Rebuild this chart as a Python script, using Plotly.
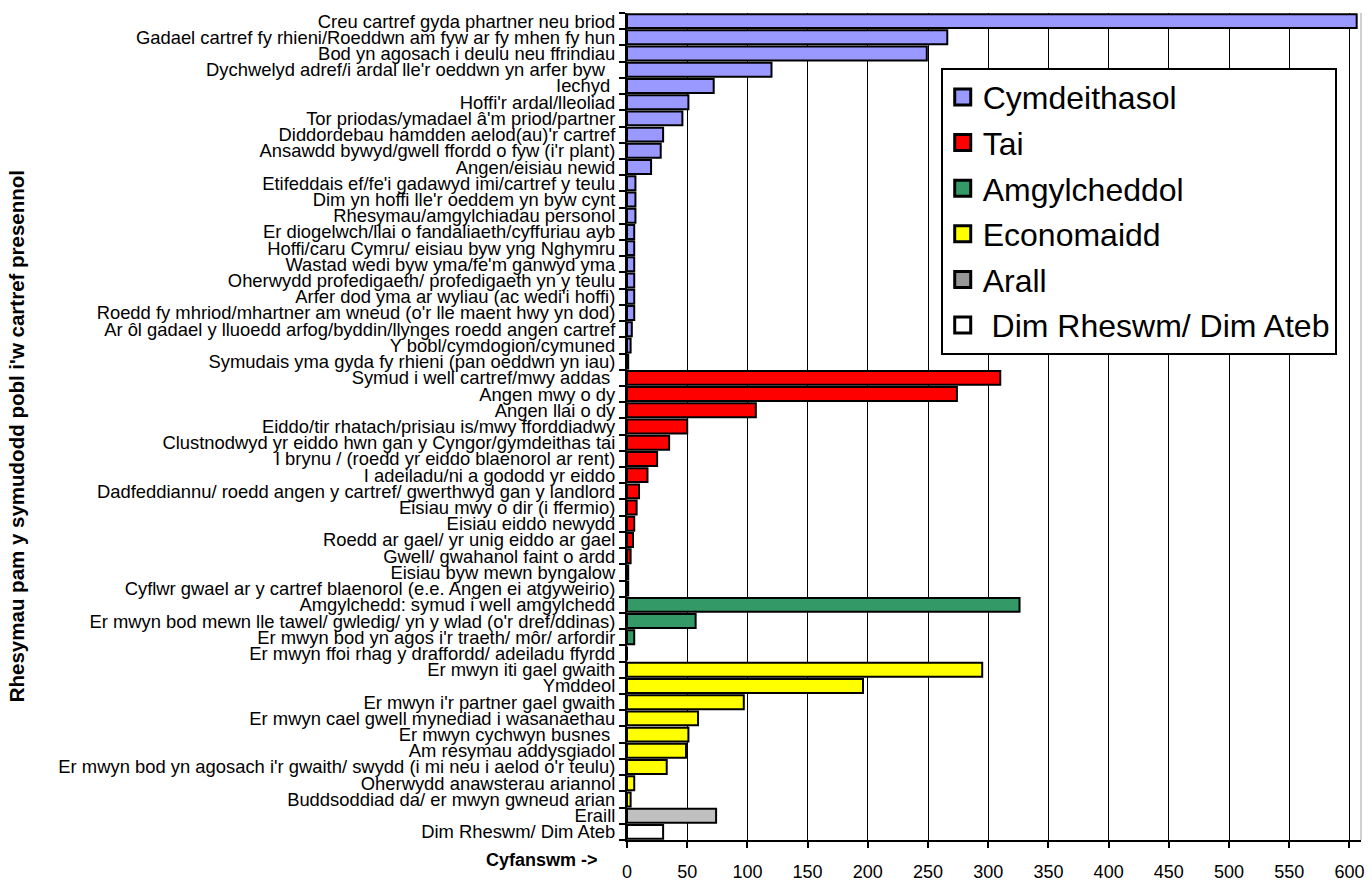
import plotly.graph_objects as go

NB = "\u00a0"

# ---------------- data ----------------
social_labels = [
    "Creu cartref gyda phartner neu briod",
    "Gadael cartref fy rhieni/Roeddwn am fyw ar fy mhen fy hun",
    "Bod yn agosach i deulu neu ffrindiau",
    "Dychwelyd adref/i ardal lle'r oeddwn yn arfer byw" + NB + NB,
    "Iechyd" + NB,
    "Hoffi'r ardal/lleoliad",
    "Tor priodas/ymadael â'm priod/partner",
    "Diddordebau hamdden aelod(au)'r cartref",
    "Ansawdd bywyd/gwell ffordd o fyw (i'r plant)",
    "Angen/eisiau newid",
    "Etifeddais ef/fe'i gadawyd imi/cartref y teulu",
    "Dim yn hoffi lle'r oeddem yn byw cynt",
    "Rhesymau/amgylchiadau personol",
    "Er diogelwch/llai o fandaliaeth/cyffuriau ayb",
    "Hoffi/caru Cymru/ eisiau byw yng Nghymru",
    "Wastad wedi byw yma/fe'm ganwyd yma",
    "Oherwydd profedigaeth/ profedigaeth yn y teulu",
    "Arfer dod yma ar wyliau (ac wedi'i hoffi)",
    "Roedd fy mhriod/mhartner am wneud (o'r lle maent hwy yn dod)",
    "Ar ôl gadael y lluoedd arfog/byddin/llynges roedd angen cartref",
    "Y bobl/cymdogion/cymuned",
    "Symudais yma gyda fy rhieni (pan oeddwn yn iau)",
]
social_values = [606, 266, 249, 120, 72, 51, 46, 30, 28, 20,
                 7, 7, 7, 6, 6, 6, 6, 6, 6, 4, 3, 1]

housing_labels = [
    "Symud i well cartref/mwy addas" + NB,
    "Angen mwy o dy",
    "Angen llai o dy",
    "Eiddo/tir rhatach/prisiau is/mwy fforddiadwy",
    "Clustnodwyd yr eiddo hwn gan y Cyngor/gymdeithas tai",
    "I brynu / (roedd yr eiddo blaenorol ar rent)",
    "I adeiladu/ni a gododd yr eiddo",
    "Dadfeddiannu/ roedd angen y cartref/ gwerthwyd gan y landlord",
    "Eisiau mwy o dir (i ffermio)",
    "Eisiau eiddo newydd",
    "Roedd ar gael/ yr unig eiddo ar gael",
    "Gwell/ gwahanol faint o ardd",
    "Eisiau byw mewn byngalow",
    "Cyflwr gwael ar y cartref blaenorol (e.e. Angen ei atgyweirio)",
]
housing_values = [310, 274, 107, 50, 35, 25, 17, 10, 8, 6, 5, 3, 1, 1]

env_labels = [
    "Amgylchedd: symud i well amgylchedd",
    "Er mwyn bod mewn lle tawel/ gwledig/ yn y wlad (o'r dref/ddinas)",
    "Er mwyn bod yn agos i'r traeth/ môr/ arfordir",
    "Er mwyn ffoi rhag y draffordd/ adeiladu ffyrdd",
]
env_values = [326, 57, 6, 0]

econ_labels = [
    "Er mwyn iti gael gwaith",
    "Ymddeol",
    "Er mwyn i'r partner gael gwaith",
    "Er mwyn cael gwell mynediad i wasanaethau",
    "Er mwyn cychwyn busnes" + NB,
    "Am resymau addysgiadol",
    "Er mwyn bod yn agosach i'r gwaith/ swydd (i mi neu i aelod o'r teulu)",
    "Oherwydd anawsterau ariannol",
    "Buddsoddiad da/ er mwyn gwneud arian",
]
econ_values = [295, 196, 97, 59, 51, 49, 33, 6, 3]

other_labels = ["Eraill"]
other_values = [74]

none_labels = ["Dim Rheswm/ Dim Ateb"]
none_values = [30]

legend_names = ["Cymdeithasol", "Tai", "Amgylcheddol", "Economaidd", "Arall",
                NB + "Dim Rheswm/ Dim Ateb"]

x_ticks = list(range(0, 601, 50))

# ---------------- style ----------------
FONT = "Liberation Sans, Arial, sans-serif"
W, H = 1372, 890
ML, MR, MT, MB = 627, 8, 13, 30
PW, PH = W - ML - MR, H - MT - MB

groups = [
    (social_labels, social_values, "#9999FF", "#9999FF"),
    (housing_labels, housing_values, "#FF0000", "#FF0000"),
    (env_labels, env_values, "#339966", "#339966"),
    (econ_labels, econ_values, "#FFFF00", "#FFFF00"),
    (other_labels, other_values, "#C0C0C0", "#969696"),
    (none_labels, none_values, "#FFFFFF", "#FFFFFF"),
]

all_labels = []
for g in groups:
    all_labels += g[0]

fig = go.Figure()
for labels, values, bar_col, _ in groups:
    fig.add_trace(go.Bar(
        y=labels, x=values, orientation="h",
        marker=dict(color=bar_col, line=dict(color="black", width=2)),
        showlegend=False, hoverinfo="x+y",
    ))

for i, (name, g) in enumerate(zip(legend_names, groups)):
    fig.add_trace(go.Scatter(
        x=[None], y=[None], mode="markers", name=name,
        legendgroup=f"g{i}",
        marker=dict(symbol="square", size=16, color=g[3],
                    line=dict(color="black", width=3)),
    ))


def px_x(px):
    return (px - ML) / PW


def px_y(py):
    return (H - MB - py) / PH


fig.update_layout(
    width=W, height=H,
    margin=dict(l=ML, r=MR, t=MT, b=MB, pad=0),
    paper_bgcolor="white", plot_bgcolor="white",
    font=dict(family=FONT, size=18, color="black"),
    barmode="overlay", bargap=0.14,
    showlegend=True,
    legend=dict(
        x=px_x(942), y=px_y(69), xanchor="left", yanchor="top",
        bgcolor="white", bordercolor="black", borderwidth=2,
        font=dict(family=FONT, size=32, color="black"),
        tracegroupgap=1, traceorder="grouped",
    ),
    xaxis=dict(
        range=[0, 609.6], tickmode="array", tickvals=x_ticks,
        ticktext=[str(v) for v in x_ticks],
        showgrid=True, gridcolor="black", gridwidth=1,
        showline=True, linecolor="black", linewidth=2,
        ticks="outside", ticklen=6, tickwidth=1.5, tickcolor="black",
        zeroline=False, tickfont=dict(size=18), ticklabelstandoff=8,
        fixedrange=True,
    ),
    yaxis=dict(
        type="category", categoryorder="array", categoryarray=all_labels,
        tickmode="array", tickvals=all_labels, ticktext=all_labels,
        range=[len(all_labels) - 0.5, -0.5],
        showgrid=False, showline=True, linecolor="black", linewidth=2,
        ticks="outside", tickson="boundaries", ticklen=6, tickwidth=1.5,
        tickcolor="black", tickfont=dict(size=18.4), zeroline=False,
        ticklabelstandoff=6, fixedrange=True,
    ),
    shapes=[
        dict(type="line", xref="paper", yref="paper", x0=1, x1=1, y0=0, y1=1,
             line=dict(color="#A0A0A0", width=1)),
    ],
    annotations=[
        dict(text="<b>Rhesymau pam y symudodd pobl i'w cartref presennol</b>",
             xref="paper", yref="paper", x=px_x(14), y=px_y(446),
             xanchor="center", yanchor="middle", textangle=-90,
             showarrow=False, font=dict(family=FONT, size=20.5)),
        dict(text="<b>Cyfanswm -></b>",
             xref="paper", yref="paper", x=px_x(600), y=px_y(880),
             xanchor="right", yanchor="middle",
             showarrow=False, font=dict(family=FONT, size=18)),
    ],
)

fig.write_html(
    "out.html",
    config={"displayModeBar": False},
    post_script="document.body.style.margin='0';document.body.style.overflow='hidden';",
)
